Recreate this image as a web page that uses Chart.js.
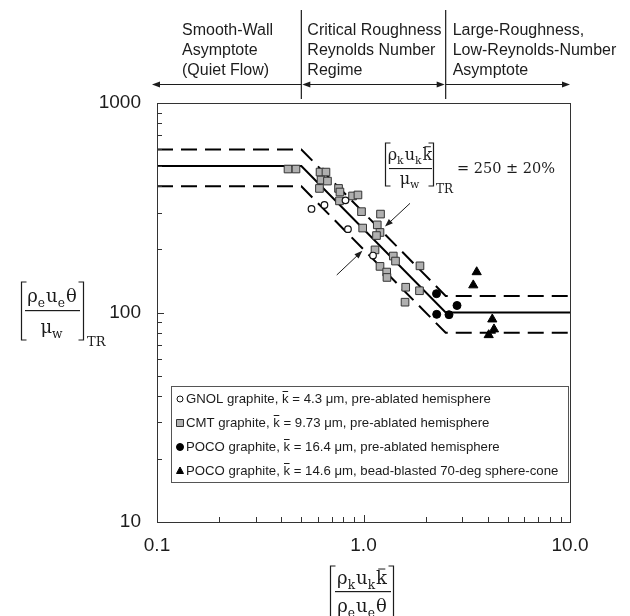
<!DOCTYPE html>
<html>
<head>
<meta charset="utf-8">
<script src="https://cdn.jsdelivr.net/npm/chart.js@4.4.1/dist/chart.umd.min.js"></script>
<style>
  html, body { margin: 0; padding: 0; background: #fff; }
  #wrap { width: 630px; height: 616px; }
</style>
</head>
<body>
<div id="wrap"><canvas id="c" width="630" height="616"></canvas></div>
<script>
// Axis tick labels (log decades)
const xMajor = [0.1, 1, 10];
const xMajorLabels = ['0.1', '1.0', '10.0'];
const yMajor = [10, 100, 1000];
const yMajorLabels = ['10', '100', '1000'];

// GNOL graphite, pre-ablated hemisphere (open circles)
const gnolX = [0.560, 0.647, 0.818, 0.841, 1.112];
const gnolY = [312, 326, 343, 250, 187];

// CMT graphite, pre-ablated hemisphere (gray squares)
const cmtX = [0.431, 0.471, 0.616, 0.658, 0.623, 0.669, 0.612, 0.757, 0.769, 0.885,
              0.940, 0.765, 0.978, 1.209, 1.166, 0.991, 1.202, 1.156, 1.137, 1.394,
              1.429, 1.202, 1.877, 1.295, 1.299, 1.601, 1.867, 1.589];
const cmtY = [484, 484, 468, 468, 429, 424, 391, 391, 376, 360,
              364, 341, 303, 295, 262, 253, 241, 233, 199, 186,
              176, 166, 167, 156, 147, 132, 127, 112];

// POCO graphite, pre-ablated hemisphere (filled circles)
const pocoHemX = [2.257, 2.837, 2.262, 2.594];
const pocoHemY = [123, 108, 98, 97.6];

// POCO graphite, bead-blasted sphere-cone (filled triangles)
const pocoConeX = [3.533, 3.401, 4.204, 4.285, 4.039];
const pocoConeY = [156, 135, 92.8, 83.2, 78.1];

// Transition correlation Re_k = 250 with its +/-20% band
const corrX = [0.1, 0.5, 2.5, 10];
const corrMid = [500, 500, 100, 100];
const corrHigh = [600, 600, 120, 120];
const corrLow = [400, 400, 80, 80];

// Regime boundaries marked above the plot
const regimeEdges = [0.5, 2.5];

// Annotation arrows [tailX, tailY, headX, headY] in data units
const bandArrows = [
  [1.680, 332, 1.271, 257],
  [0.742, 151, 0.987, 197]
];

const pts = (xs, ys) => xs.map((x, i) => ({ x: x, y: ys[i] }));

const INK = '#1c1c1c';
const SANS = '"Liberation Sans", Arial, sans-serif';
const SERIF = '"DejaVu Serif", "Liberation Serif", serif';

function arrowHead(ctx, x1, y1, x2, y2, len, half) {
  const a = Math.atan2(y2 - y1, x2 - x1);
  const bx = x2 - len * Math.cos(a), by = y2 - len * Math.sin(a);
  ctx.beginPath();
  ctx.moveTo(x2, y2);
  ctx.lineTo(bx + half * Math.sin(a), by - half * Math.cos(a));
  ctx.lineTo(bx - half * Math.sin(a), by + half * Math.cos(a));
  ctx.closePath();
  ctx.fill();
}

// parts: [text, kind] with kind 'n' normal, 's' subscript, 'b' overbar
function runWidth(ctx, parts, size) {
  let w = 0;
  parts.forEach(([t, k]) => {
    ctx.font = (k === 's' ? size * 0.68 : size) + 'px ' + SERIF;
    w += ctx.measureText(t).width + (k === 's' ? 1 : 0);
  });
  return w;
}
function drawRun(ctx, parts, x, base, size, align) {
  const w = runWidth(ctx, parts, size);
  let cx = align === 'center' ? x - w / 2 : x;
  ctx.textAlign = 'left';
  ctx.textBaseline = 'alphabetic';
  parts.forEach(([t, k]) => {
    const s = k === 's' ? size * 0.68 : size;
    ctx.font = s + 'px ' + SERIF;
    const tw = ctx.measureText(t).width;
    ctx.fillText(t, cx, base + (k === 's' ? size * 0.26 : 0));
    if (k === 'b') {
      ctx.fillRect(cx + tw * 0.2, base - size * 0.86, tw * 0.65, 1);
    }
    cx += tw + (k === 's' ? 1 : 0);
  });
  return w;
}
function bracket(ctx, x, top, bottom, dir) {
  ctx.beginPath();
  ctx.moveTo(x + dir * 5, top);
  ctx.lineTo(x, top);
  ctx.lineTo(x, bottom);
  ctx.lineTo(x + dir * 5, bottom);
  ctx.stroke();
}

const numK = [['ρ', 'n'], ['k', 's'], ['u', 'n'], ['k', 's'], ['k', 'b']];
const denTheta = [['ρ', 'n'], ['e', 's'], ['u', 'n'], ['e', 's'], ['θ', 'n']];
const numTheta = [['ρ', 'n'], ['e', 's'], ['u', 'n'], ['e', 's'], ['θ', 'n']];
const denMu = [['μ', 'n'], ['w', 's']];

const decorations = {
  id: 'decorations',
  afterDraw(chart) {
    const ctx = chart.ctx;
    const xs = chart.scales.x, ys = chart.scales.y;
    const a = chart.chartArea;
    ctx.save();

    // plot frame
    ctx.strokeStyle = '#333';
    ctx.lineWidth = 1;
    ctx.strokeRect(Math.round(a.left) + 0.5, Math.round(a.top) + 0.5,
                   Math.round(a.right - a.left), Math.round(a.bottom - a.top));

    // inward tick marks on the bottom and left axes
    ctx.beginPath();
    xs.ticks.forEach(t => {
      const px = Math.round(xs.getPixelForValue(t.value)) + 0.5;
      const len = xMajor.includes(t.value) ? 7 : 5;
      ctx.moveTo(px, a.bottom);
      ctx.lineTo(px, a.bottom - len);
    });
    ys.ticks.forEach(t => {
      const py = Math.round(ys.getPixelForValue(t.value)) + 0.5;
      const len = yMajor.includes(t.value) ? 7 : 5;
      ctx.moveTo(a.left, py);
      ctx.lineTo(a.left + len, py);
    });
    ctx.stroke();

    // regime boundaries and arrows above the plot
    ctx.strokeStyle = INK;
    ctx.fillStyle = INK;
    ctx.lineWidth = 1.2;
    const e1 = xs.getPixelForValue(regimeEdges[0]);
    const e2 = xs.getPixelForValue(regimeEdges[1]);
    ctx.beginPath();
    [e1, e2].forEach(px => { ctx.moveTo(px, 10); ctx.lineTo(px, 99); });
    const ay = 84.5, L = a.left - 5, R = a.right;
    ctx.moveTo(L + 4, ay); ctx.lineTo(e1, ay);
    ctx.moveTo(e1 + 4, ay); ctx.lineTo(e2 - 4, ay);
    ctx.moveTo(e2, ay); ctx.lineTo(R - 4, ay);
    ctx.stroke();
    arrowHead(ctx, L + 10, ay, L, ay, 8, 3);
    arrowHead(ctx, e1 + 10, ay, e1 + 1, ay, 8, 3);
    arrowHead(ctx, e2 - 10, ay, e2 - 1, ay, 8, 3);
    arrowHead(ctx, R - 10, ay, R, ay, 8, 3);

    ctx.font = '16px ' + SANS;
    ctx.textAlign = 'left';
    ctx.textBaseline = 'alphabetic';
    const blocks = [
      [182, ['Smooth-Wall', 'Asymptote', '(Quiet Flow)']],
      [e1 + 6, ['Critical Roughness', 'Reynolds Number', 'Regime']],
      [e2 + 7, ['Large-Roughness,', 'Low-Reynolds-Number', 'Asymptote']]
    ];
    blocks.forEach(([bx, lines]) => {
      lines.forEach((s, i) => ctx.fillText(s, bx, 35 + i * 20));
    });

    // x-axis title
    ctx.lineWidth = 1.2;
    drawRun(ctx, numK, 362, 584, 18, 'center');
    ctx.fillRect(335, 591, 56, 1.2);
    drawRun(ctx, denTheta, 362, 612, 18, 'center');
    bracket(ctx, 330.5, 566, 625, 1);
    bracket(ctx, 393.5, 566, 625, -1);

    // y-axis title
    drawRun(ctx, numTheta, 52, 302, 18, 'center');
    ctx.fillRect(25, 310, 55, 1.2);
    drawRun(ctx, denMu, 52, 333, 18, 'center');
    bracket(ctx, 21.5, 282, 340, 1);
    bracket(ctx, 83.5, 282, 340, -1);
    drawRun(ctx, [['TR', 'n']], 87, 346, 13, 'left');

    // correlation annotation
    drawRun(ctx, numK, 410, 160, 16, 'center');
    ctx.fillRect(389, 168, 43, 1.1);
    drawRun(ctx, denMu, 410, 184, 16, 'center');
    bracket(ctx, 385.5, 143, 186, 1);
    bracket(ctx, 433.5, 143, 186, -1);
    drawRun(ctx, [['TR', 'n']], 436, 193, 12, 'left');
    drawRun(ctx, [['= 250 ± 20%', 'n']], 457, 173, 14.5, 'left');

    ctx.lineWidth = 1;
    bandArrows.forEach(([tx, ty, hx, hy]) => {
      const x1 = xs.getPixelForValue(tx), y1 = ys.getPixelForValue(ty);
      const x2 = xs.getPixelForValue(hx), y2 = ys.getPixelForValue(hy);
      const ang = Math.atan2(y2 - y1, x2 - x1);
      ctx.beginPath();
      ctx.moveTo(x1, y1);
      ctx.lineTo(x2 - 5 * Math.cos(ang), y2 - 5 * Math.sin(ang));
      ctx.stroke();
      arrowHead(ctx, x1, y1, x2, y2, 8, 3);
    });

    // legend box
    const lx = 171, ly = 386, lw = 397, lh = 96;
    ctx.fillStyle = '#fff';
    ctx.fillRect(lx, ly, lw, lh);
    ctx.strokeStyle = '#555';
    ctx.strokeRect(lx + 0.5, ly + 0.5, lw, lh);
    chart.data.datasets.filter(d => d.legendText).forEach((d, i) => {
      const cy = ly + 13 + i * 24;
      const mx = 180;
      ctx.fillStyle = d.backgroundColor;
      ctx.strokeStyle = d.borderColor;
      ctx.lineWidth = 1;
      ctx.beginPath();
      if (d.pointStyle === 'circle') {
        ctx.arc(mx, cy, d.legendSize, 0, Math.PI * 2);
      } else if (d.pointStyle === 'rect') {
        ctx.rect(mx - d.legendSize, cy - d.legendSize, 2 * d.legendSize, 2 * d.legendSize);
      } else {
        const r = d.legendSize;
        ctx.moveTo(mx, cy - r);
        ctx.lineTo(mx + r * 0.866, cy + r * 0.5 + 0.5);
        ctx.lineTo(mx - r * 0.866, cy + r * 0.5 + 0.5);
        ctx.closePath();
      }
      ctx.fill();
      ctx.stroke();

      ctx.fillStyle = INK;
      ctx.font = '13.2px ' + SANS;
      ctx.textAlign = 'left';
      ctx.textBaseline = 'middle';
      const [before, after] = d.legendText.split('k\u0304');
      let tx = 186;
      ctx.fillText(before, tx, cy);
      tx += ctx.measureText(before).width;
      ctx.fillText('k', tx, cy);
      const kw = ctx.measureText('k').width;
      ctx.fillRect(tx + 0.5, cy - 8, kw - 1, 1);
      tx += kw;
      ctx.fillText(after, tx, cy);
    });

    ctx.restore();
  }
};

function allLogTicks(min, max) {
  const out = [];
  for (let d = min; d < max; d *= 10) {
    for (let m = 1; m < 10; m++) out.push(+(d * m).toPrecision(6));
  }
  out.push(max);
  return out;
}

const lineStyle = (data, dash) => ({
  data: data,
  showLine: true,
  borderColor: '#000',
  borderWidth: 2,
  borderDash: dash,
  pointRadius: 0,
  fill: false,
  tension: 0
});

new Chart(document.getElementById('c'), {
  type: 'scatter',
  data: {
    datasets: [
      {
        label: 'GNOL', legendText: 'GNOL graphite, k\u0304 = 4.3 μm, pre-ablated hemisphere',
        data: pts(gnolX, gnolY), pointStyle: 'circle', pointRadius: 3.3, legendSize: 3,
        backgroundColor: '#fff', borderColor: '#111', borderWidth: 1.2
      },
      {
        label: 'CMT', legendText: 'CMT graphite, k\u0304 = 9.73 μm, pre-ablated hemisphere',
        data: pts(cmtX, cmtY), pointStyle: 'rect', pointRadius: 5.4, legendSize: 3.5,
        backgroundColor: '#b0b0b0', borderColor: '#333', borderWidth: 1
      },
      {
        label: 'POCO hemisphere', legendText: 'POCO graphite, k\u0304 = 16.4 μm, pre-ablated hemisphere',
        data: pts(pocoHemX, pocoHemY), pointStyle: 'circle', pointRadius: 4, legendSize: 3.5,
        backgroundColor: '#000', borderColor: '#000', borderWidth: 1
      },
      {
        label: 'POCO sphere-cone', legendText: 'POCO graphite, k\u0304 = 14.6 μm, bead-blasted 70-deg sphere-cone',
        data: pts(pocoConeX, pocoConeY), pointStyle: 'triangle', pointRadius: 5.3, legendSize: 4,
        backgroundColor: '#000', borderColor: '#000', borderWidth: 1
      },
      Object.assign({ label: 'Re_k = 250' }, lineStyle(pts(corrX, corrMid), [])),
      Object.assign({ label: '+20%' }, lineStyle(pts(corrX, corrHigh), [16, 8])),
      Object.assign({ label: '-20%' }, lineStyle(pts(corrX, corrLow), [16, 8]))
    ]
  },
  options: {
    responsive: false,
    animation: false,
    devicePixelRatio: 1,
    layout: { padding: { top: 103, right: 60, left: 0, bottom: 0 } },
    plugins: { legend: { display: false }, tooltip: { enabled: false } },
    scales: {
      x: {
        type: 'logarithmic', min: 0.1, max: 10, position: 'bottom',
        grid: { display: false, drawTicks: false }, border: { display: false },
        afterBuildTicks: s => { s.ticks = allLogTicks(0.1, 10).map(v => ({ value: v })); },
        afterFit: s => { s.height = 94; },
        ticks: {
          autoSkip: false, maxRotation: 0, padding: 12, color: INK,
          font: { family: SANS, size: 19 },
          callback: v => { const i = xMajor.indexOf(+v); return i >= 0 ? xMajorLabels[i] : ''; }
        }
      },
      y: {
        type: 'logarithmic', min: 10, max: 1000, position: 'left',
        grid: { display: false, drawTicks: false }, border: { display: false },
        afterBuildTicks: s => { s.ticks = allLogTicks(10, 1000).map(v => ({ value: v })); },
        afterFit: s => { s.width = 157; },
        ticks: {
          autoSkip: false, padding: 16, color: INK,
          font: { family: SANS, size: 19 },
          callback: v => { const i = yMajor.indexOf(+v); return i >= 0 ? yMajorLabels[i] : ''; }
        }
      }
    }
  },
  plugins: [decorations]
});
</script>
</body>
</html>
